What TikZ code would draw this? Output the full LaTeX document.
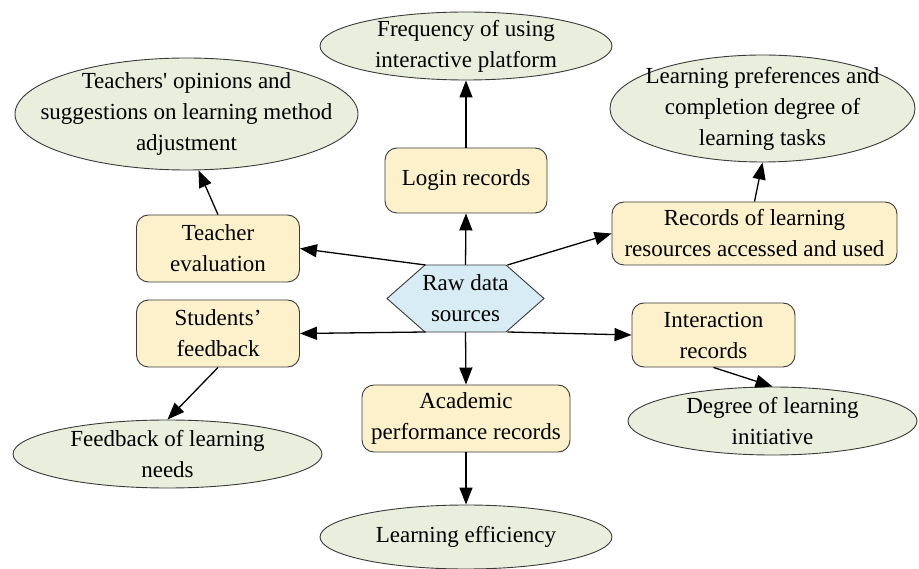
\documentclass[tikz,border=0pt]{standalone}
\usepackage{fontspec}
\setmainfont{Liberation Serif}
\usetikzlibrary{arrows.meta,calc,shapes.geometric,backgrounds}
\definecolor{boxfill}{HTML}{FDF1CB}
\definecolor{ovalfill}{HTML}{EAEEDD}
\definecolor{hexfill}{HTML}{D7ECF4}
\definecolor{rim}{HTML}{3A3A3A}
\tikzset{
  src/.style={minimum width=157pt,minimum height=67pt,inner sep=0pt,outer sep=0pt,align=center},
  hexa/.style={draw=rim,fill=hexfill,line width=0.9pt,line join=miter},
  rec/.style={draw=rim,fill=boxfill,rounded corners=12pt,line width=0.9pt,inner sep=2pt,align=center},
  ind/.style={ellipse,draw=rim,fill=ovalfill,line width=0.9pt,inner sep=-45pt,align=center},
  link/.style={-{Triangle[length=17pt,width=13pt]},line width=1.3pt},
}

\begin{document}
\begin{tikzpicture}[x=1pt,y=-1pt,font=\fontsize{23}{31}\selectfont]
  \useasboundingbox (0,0) rectangle (919,569);
  % centre
  \node[src] (raw) at (465.5,298.5) {Raw data\\sources};
  \begin{scope}[on background layer]
    \draw[hexa] (raw.west) -- ($(raw.north west)+(38,0)$) -- ($(raw.north east)+(-38,0)$)
      -- (raw.east) -- ($(raw.south east)+(-38,0)$) -- ($(raw.south west)+(38,0)$) -- cycle;
  \end{scope}
  % records
  \node[rec,minimum width=162pt,minimum height=65pt] (login) at (466,180.5) {Login records};
  \node[rec,minimum width=163pt,minimum height=67pt] (teacher) at (218,248.5) {Teacher\\evaluation};
  \node[rec,minimum width=163pt,minimum height=67pt] (student) at (218,333.5) {Students’\\feedback};
  \node[rec,minimum width=285pt,minimum height=63pt] (resource) at (754.5,233.5) {Records of learning\\resources accessed and used};
  \node[rec,minimum width=163pt,minimum height=64pt] (interact) at (713.5,335) {Interaction\\records};
  \node[rec,minimum width=208pt,minimum height=67pt] (exam) at (466,418.5) {Academic\\performance records};
  % derived indicators
  \node[ind,minimum width=292pt,minimum height=68pt] (freq) at (466,46) {Frequency of using\\interactive platform};
  \node[ind,minimum width=343pt,minimum height=112pt] (opinion) at (186.5,114) {Teachers\textquotesingle{} opinions and\\suggestions on learning method\\adjustment};
  \node[ind,minimum width=305pt,minimum height=107pt] (pref) at (762.5,108.5) {Learning preferences and\\completion degree of\\learning tasks};
  \node[ind,minimum width=309pt,minimum height=68pt] (needs) at (167.5,454) {Feedback of learning\\needs};
  \node[ind,minimum width=289pt,minimum height=68pt] (initiative) at (772.5,421) {Degree of learning\\initiative};
  \node[ind,minimum width=292pt,minimum height=64pt] (effic) at (466,537) {Learning efficiency};
  % arrows
  \draw[link] (raw.north) -- (login.south);
  \draw[link] (login.north) -- (freq.south);
  \draw[link] ($(raw.north)+(-40,0)$) -- (teacher.east);
  \draw[link] (teacher.north) -- (opinion.-78);
  \draw[link] ($(raw.north)+(42,0)$) -- (resource.west);
  \draw[link] (resource.north) -- (pref.south);
  \draw[link] ($(raw.south)+(-40,0)$) -- (student.east);
  \draw[link] ($(raw.south)+(42,0)$) -- (interact.west);
  \draw[link] (raw.south) -- (exam.north);
  \draw[link] (student.south) -- (needs.north);
  \draw[link] (interact.south) -- (initiative.north);
  \draw[link] (exam.south) -- (effic.north);
\end{tikzpicture}
\end{document}
